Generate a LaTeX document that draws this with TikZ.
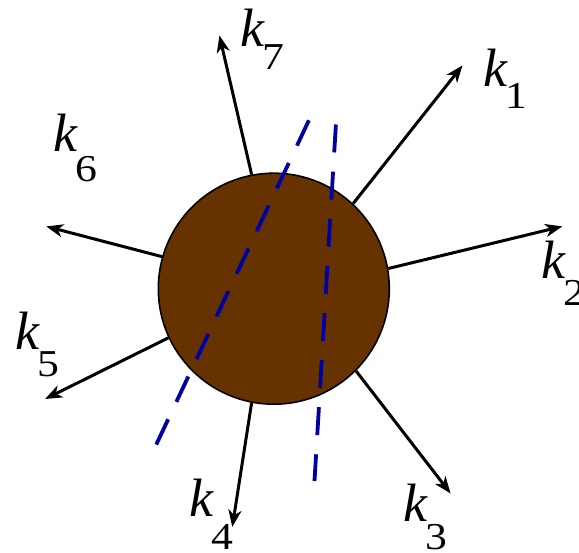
\documentclass[tikz,border=0pt]{standalone}
\usepackage{fontspec}
\setmainfont{Liberation Serif}
\usetikzlibrary{arrows.meta}
\definecolor{blobbrown}{RGB}{102,51,0}
\definecolor{cutblue}{RGB}{0,0,160}
\newcommand{\klab}[2]{{\fontsize{54}{54}\selectfont\itshape k}\kern-2pt\raisebox{-#2pt}{\scalebox{1.15}[1]{\fontsize{38}{38}\selectfont #1}}}

\begin{document}
\begin{tikzpicture}[
    x=1pt, y=-1pt,
    blob/.style={
        circle, draw, line width=1.6pt, fill=blobbrown,
        minimum size=231pt, inner sep=0pt
    },
    leg/.style={-{Stealth[length=17pt,width=13pt,inset=5pt]}, line width=3pt},
    cut/.style={cutblue, line width=3.8pt, dash pattern=on 28pt off 19.2pt},
    lab/.style={anchor=base west, inner sep=0pt}
]
\useasboundingbox (0,0) rectangle (579,553);

\node[blob] (vx) at (273.8,288.7) {};

\coordinate (t1) at (462.5,65.4);
\coordinate (t2) at (562.3,226.4);
\coordinate (t3) at (450.6,493.5);
\coordinate (t4) at (232.3,527);
\coordinate (t5) at (45.1,399);
\coordinate (t6) at (46.2,226.4);
\coordinate (t7) at (219.4,35.4);

\draw[leg] (vx.47.7)  -- (t1);
\draw[leg] (vx.10.4)  -- (t2);
\draw[leg] (vx.-45.8) -- (t3);
\draw[leg] (vx.-101)  -- (t4);
\draw[leg] (vx.205.8) -- (t5);
\draw[leg] (vx.164.6) -- (t6);
\draw[leg] (vx.101)   -- (t7);

\coordinate (ca) at (308.9,120.3);
\coordinate (cb) at (155.4,446.4);
\coordinate (da) at (335.9,124.5);
\coordinate (db) at (314.5,481);
\draw[cut] (ca) -- (cb);
\draw[cut] (da) -- (db);

\node[lab] (k1) at (483.3,86.7)  {\klab{1}{21.6}};
\node[lab] (k2) at (541,278.3)   {\klab{2}{27}};
\node[lab] (k3) at (403,521.7)   {\klab{3}{28}};
\node[lab] (k4) at (189.7,516.7) {\klab{4}{33}};
\node[lab] (k5) at (15.7,349.3)  {\klab{5}{27.4}};
\node[lab] (k6) at (53,151.7)    {\klab{6}{30}};
\node[lab] (k7) at (240,46.7)    {\klab{7}{23.3}};
\end{tikzpicture}
\end{document}
